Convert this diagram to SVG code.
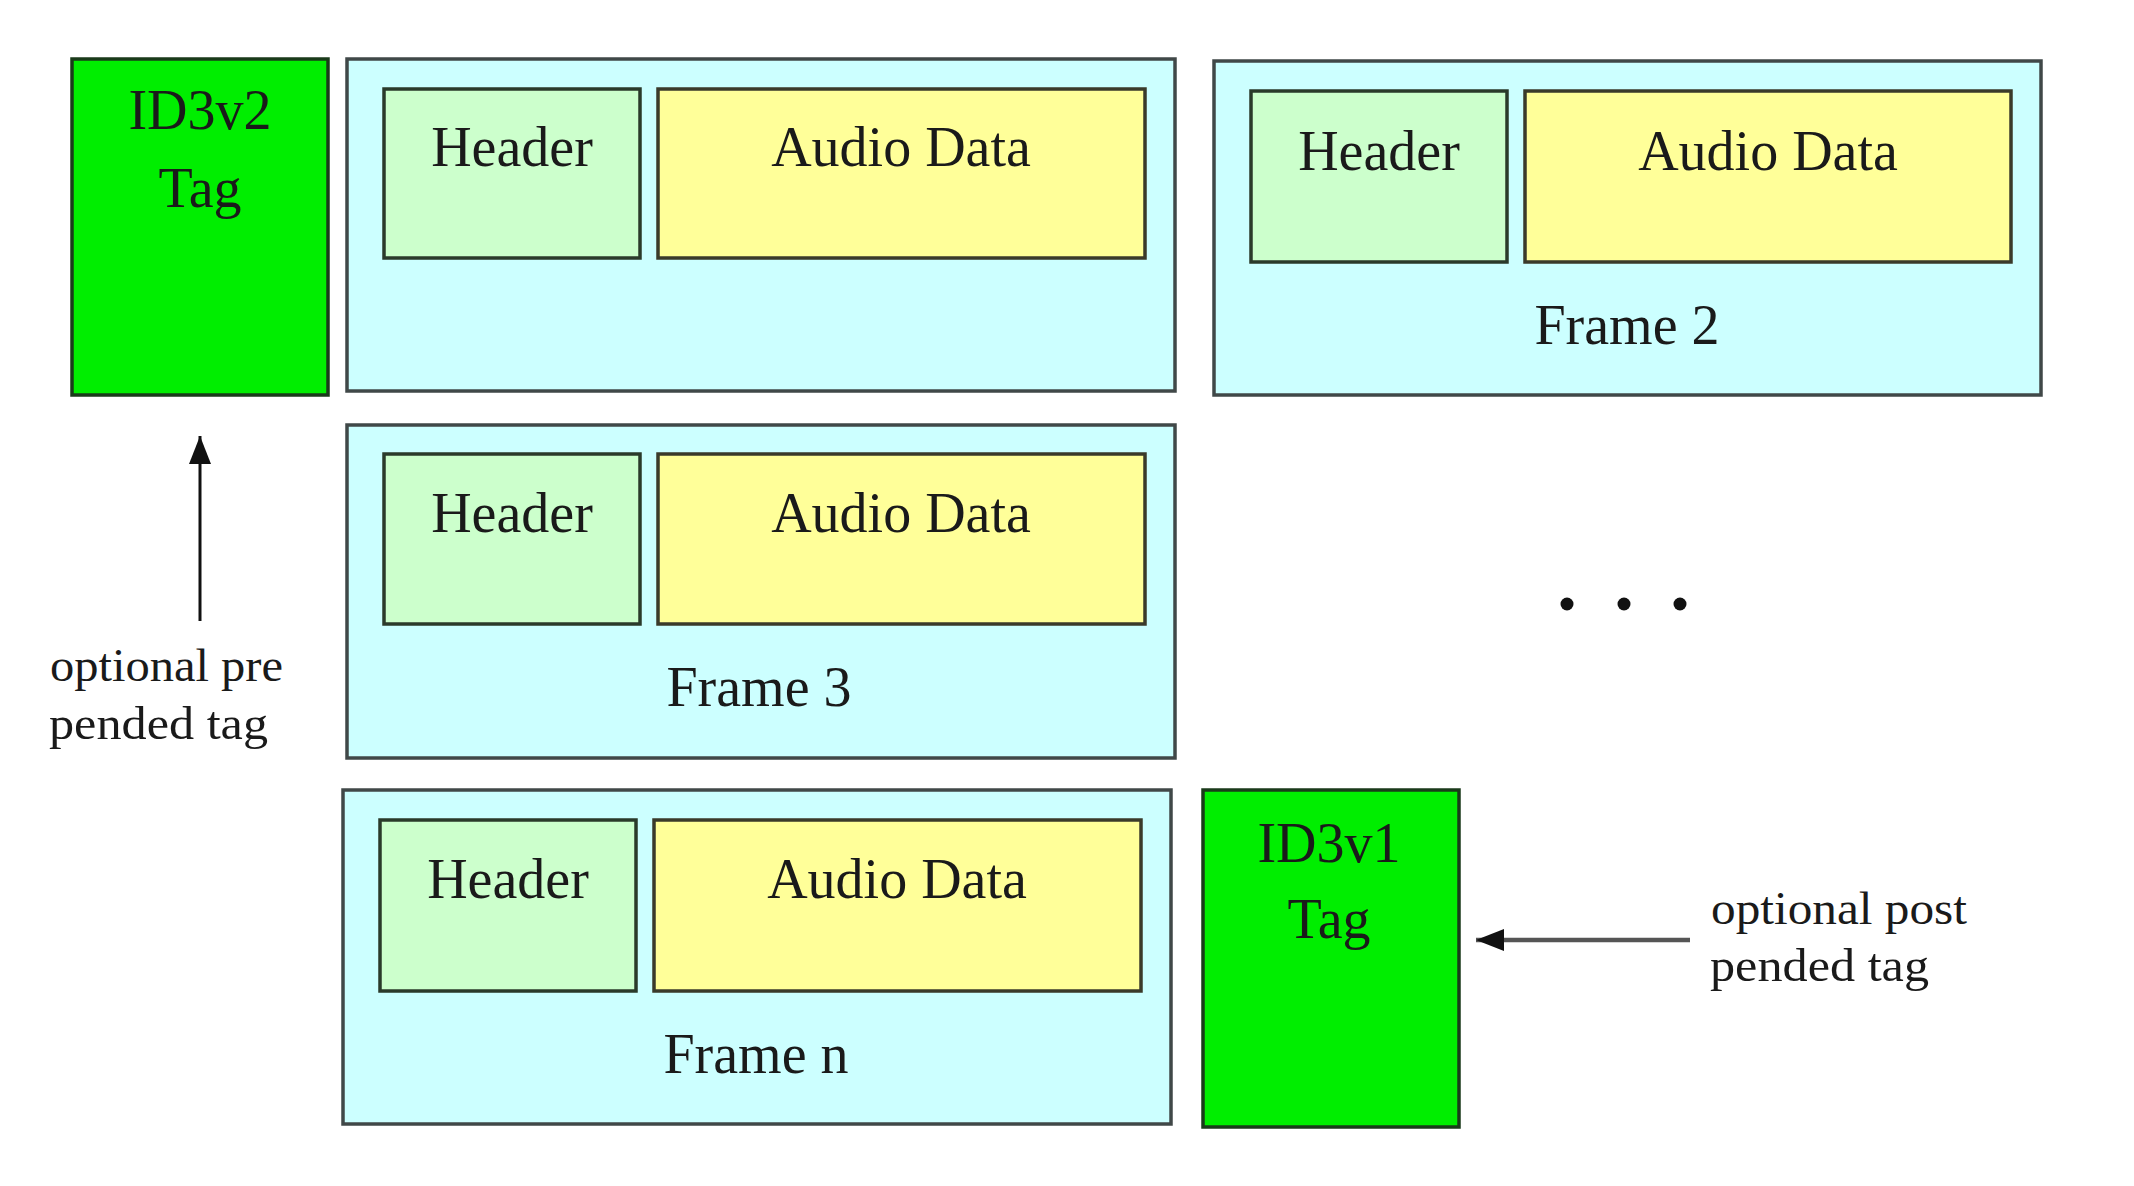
<svg xmlns="http://www.w3.org/2000/svg" width="2134" height="1186" viewBox="0 0 2134 1186">
<style>
.frame{fill:#ccffff;stroke:#404848;stroke-width:3.5}
.hdr{fill:#ccffcc;stroke:#2a3a2a;stroke-width:3.5}
.aud{fill:#ffff99;stroke:#3a3a2a;stroke-width:3.5}
.tag{fill:#00ee00;stroke:#1a3a1a;stroke-width:3.5}
.t{font-family:"Liberation Serif","Times New Roman",serif;font-size:56px;fill:#1a1a1a;text-anchor:middle}
.s{font-family:"Liberation Serif","Times New Roman",serif;font-size:46px;fill:#1a1a1a}
</style>
<defs>
<marker id="ah" viewBox="0 0 10 10" refX="10" refY="5" markerWidth="28" markerHeight="22" markerUnits="userSpaceOnUse" orient="auto" preserveAspectRatio="none">
<path d="M0,0 L10,5 L0,10 z" fill="#111"/>
</marker>
</defs>
<rect width="2134" height="1186" fill="#ffffff"/>
<g id="id3v2">
<rect class="tag" x="72" y="59" width="256" height="336"/>
<text class="t" x="200" y="129">ID3v2</text>
<text class="t" x="200" y="207">Tag</text>
</g>
<g id="frame1">
<rect class="frame" x="347" y="59" width="828" height="332"/>
<rect class="hdr" x="384" y="89" width="256" height="169"/>
<text class="t" x="512" y="166">Header</text>
<rect class="aud" x="658" y="89" width="487" height="169"/>
<text class="t" x="901" y="166">Audio Data</text>
</g>
<g id="frame2">
<rect class="frame" x="1214" y="61" width="827" height="334"/>
<rect class="hdr" x="1251" y="91" width="256" height="171"/>
<text class="t" x="1379" y="170">Header</text>
<rect class="aud" x="1525" y="91" width="486" height="171"/>
<text class="t" x="1768" y="170">Audio Data</text>
<text class="t" x="1627" y="344">Frame 2</text>
</g>
<g id="frame3">
<rect class="frame" x="347" y="425" width="828" height="333"/>
<rect class="hdr" x="384" y="454" width="256" height="170"/>
<text class="t" x="512" y="532">Header</text>
<rect class="aud" x="658" y="454" width="487" height="170"/>
<text class="t" x="901" y="532">Audio Data</text>
<text class="t" x="759" y="706">Frame 3</text>
</g>
<g id="framen">
<rect class="frame" x="343" y="790" width="828" height="334"/>
<rect class="hdr" x="380" y="820" width="256" height="171"/>
<text class="t" x="508" y="898">Header</text>
<rect class="aud" x="654" y="820" width="487" height="171"/>
<text class="t" x="897" y="898">Audio Data</text>
<text class="t" x="756" y="1073">Frame n</text>
</g>
<g id="id3v1">
<rect class="tag" x="1203" y="790" width="256" height="337"/>
<text class="t" x="1329" y="862">ID3v1</text>
<text class="t" x="1329" y="938">Tag</text>
</g>
<g id="ellipsis" fill="#111">
<circle cx="1567" cy="604" r="6.5"/>
<circle cx="1624" cy="604" r="6.5"/>
<circle cx="1680" cy="604" r="6.5"/>
</g>
<g id="connectors">
<line x1="200" y1="621" x2="200" y2="436" stroke="#111" stroke-width="3" marker-end="url(#ah)"/>
<line x1="1690" y1="940" x2="1476" y2="940" stroke="#555" stroke-width="4.5" marker-end="url(#ah)"/>
</g>
<g id="labels">
<text class="s" x="50" y="681" textLength="233" lengthAdjust="spacingAndGlyphs">optional pre</text>
<text class="s" x="49" y="739" textLength="219" lengthAdjust="spacingAndGlyphs">pended tag</text>
<text class="s" x="1711" y="924" textLength="256" lengthAdjust="spacingAndGlyphs">optional post</text>
<text class="s" x="1710" y="981" textLength="219" lengthAdjust="spacingAndGlyphs">pended tag</text>
</g>
</svg>
